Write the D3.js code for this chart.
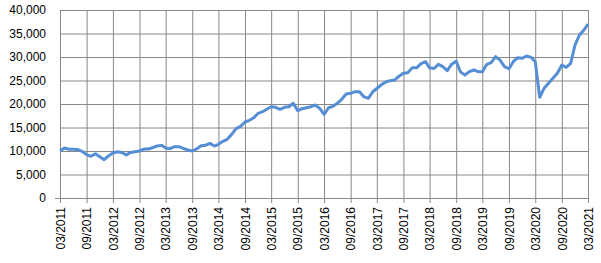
<!DOCTYPE html>
<meta charset="utf-8">
<style>
body { margin: 0; background: #fff; }
text { font-family: "Liberation Sans", Arial, sans-serif; font-size: 12px; fill: #000; }
.line { fill: none; stroke: #558ed5; stroke-width: 3; stroke-linejoin: round; }
</style>
<body>
<script src="https://d3js.org/d3.v7.min.js"></script>
<script>

// monthly values, 03/2011 .. 03/2021
var startMonth = "03/2011";
var values = [
  10000, 10640, 10360, 10360, 10300, 9930, 9220, 8870, 9430, 8800, 8150, 9000,
  9570, 9850, 9700, 9150, 9700, 9850, 10000, 10400, 10430, 10700, 11060, 11200,
  10640, 10500, 10920, 10920, 10570, 10210, 10000, 10430, 11130, 11200, 11630, 11060,
  11420, 12060, 12490, 13550, 14780, 15250, 16170, 16530, 17090, 18020, 18360, 18940,
  19430, 19290, 18870, 19290, 19430, 20150, 18580, 19000, 19220, 19430, 19790, 19000,
  17800, 19200, 19500, 20140, 21000, 22130, 22270, 22620, 22620, 21560, 21210, 22600,
  23300, 24100, 24650, 24970, 25100, 25900, 26530, 26670, 27700, 27700, 28600, 29000,
  27700, 27550, 28440, 27940, 27100, 28480, 29100, 26800, 26170, 26880, 27230, 26880,
  26880, 28440, 28790, 30070, 29360, 27940, 27500, 29000, 29860, 29720, 30210, 29930,
  29000, 21420, 23330, 24400, 25460, 26530, 28300, 27800, 28650, 32550, 34680, 35740,
  37020
];
var yTicks = [0, 5000, 10000, 15000, 20000, 25000, 30000, 35000, 40000];
var tickEvery = 6; // months between x labels

var parseMonth = d3.timeParse("%m/%Y"),
    fmtMonth = d3.timeFormat("%m/%Y");
var start = parseMonth(startMonth);
var data = values.map(function(v, i) {
  return { date: d3.timeMonth.offset(start, i), value: v };
});
var xTickDates = data.filter(function(d, i) { return i % tickEvery === 0; })
                     .map(function(d) { return d.date; });

var margin = {top: 10, right: 13, bottom: 65, left: 60},
    width = 601 - margin.left - margin.right,
    height = 263 - margin.top - margin.bottom;

var x = d3.scaleTime()
    .domain(d3.extent(data, function(d) { return d.date; }))
    .range([0, width]);
var y = d3.scaleLinear()
    .domain([0, 40000])
    .range([height, 0]);

var svg = d3.select("body").append("svg")
    .attr("width", 601)
    .attr("height", 263)
  .append("g")
    .attr("transform", "translate(" + margin.left + "," + margin.top + ")");

var gridColor = "#888";

// horizontal gridlines + y labels
svg.append("g")
    .call(d3.axisLeft(y).tickValues(yTicks).tickSize(-width).tickSizeOuter(0)
      .tickPadding(14).tickFormat(d3.format(",")))
    .call(function(g) {
      g.select(".domain").attr("stroke", gridColor);
      g.selectAll(".tick line").attr("stroke", gridColor);
      g.selectAll(".tick text").attr("font-size", 12)
        .attr("font-family", "Liberation Sans, Arial, sans-serif");
    });

// vertical gridlines
svg.append("g")
    .call(d3.axisBottom(x).tickValues(xTickDates).tickSize(height).tickFormat(""))
    .call(function(g) {
      g.select(".domain").remove();
      g.selectAll(".tick line").attr("stroke", gridColor);
    });

// x axis with ticks and rotated labels
var xa = svg.append("g")
    .attr("transform", "translate(0," + height + ")")
    .call(d3.axisBottom(x).tickValues(xTickDates).tickSize(5).tickSizeOuter(0)
      .tickFormat(fmtMonth));
xa.select(".domain").attr("stroke", gridColor).attr("d", "M-5,0.5H" + width);
xa.selectAll(".tick line").attr("stroke", gridColor);
xa.selectAll(".tick text")
    .attr("font-size", 12)
    .attr("font-family", "Liberation Sans, Arial, sans-serif")
    .attr("transform", "rotate(-90)")
    .attr("text-anchor", "end")
    .attr("x", -9)
    .attr("y", 0)
    .attr("dy", "0.35em");

// the line
svg.append("path")
    .datum(data)
    .attr("class", "line")
    .attr("d", d3.line()
      .x(function(d) { return x(d.date); })
      .y(function(d) { return y(d.value); }));

</script>
</body>
